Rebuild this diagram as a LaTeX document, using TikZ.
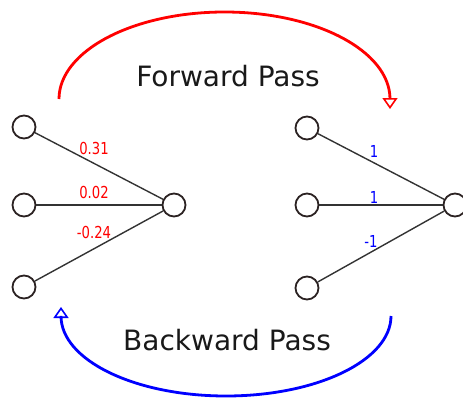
\documentclass[tikz,border=0pt]{standalone}
\usepackage{fontspec}
\setmainfont{DejaVu Sans}
\newfontfamily\wfont[FakeStretch=0.8]{DejaVu Sans}
\usetikzlibrary{arrows.meta}
\definecolor{nodeline}{HTML}{2B2222}
\definecolor{edgeline}{HTML}{333333}
\begin{document}
\begin{tikzpicture}[x=1pt,y=1pt,
  neuron/.style={circle,draw=nodeline,fill=white,line width=1.8pt,minimum size=23pt,inner sep=0pt},
  wedge/.style={draw=edgeline,line width=1.4pt},
  wlab/.style={font=\wfont\fontsize{16.5}{16.5}\selectfont,inner sep=0pt},
  title/.style={font=\fontsize{28}{32}\selectfont,text=black!90,inner sep=0pt},
  passarrow/.style={line width=2.8pt,-{Triangle[open,length=11pt,width=15pt,line width=1.6pt]}}]
\useasboundingbox (0,0) rectangle (463,400);
% left network
\node[neuron] (a1) at (24,273) {};
\node[neuron] (a2) at (24,195) {};
\node[neuron] (a3) at (24,113) {};
\node[neuron] (ao) at (174,195) {};
\draw[wedge] (a1) -- (ao);
\draw[wedge] (a2) -- (ao);
\draw[wedge] (a3) -- (ao);
\node[wlab,text=red] (l1) at (94,252) {0.31};
\node[wlab,text=red] (l2) at (94,208) {0.02};
\node[wlab,text=red] (l3) at (94,168) {-0.24};
% right network
\node[neuron] (b1) at (307,272) {};
\node[neuron] (b2) at (307,195) {};
\node[neuron] (b3) at (307,112) {};
\node[neuron] (bo) at (455,195) {};
\draw[wedge] (b1) -- (bo);
\draw[wedge] (b2) -- (bo);
\draw[wedge] (b3) -- (bo);
\node[wlab,text=blue] (r1) at (374,249) {1};
\node[wlab,text=blue] (r2) at (374,203) {1};
\node[wlab,text=blue] (r3) at (371,159) {-1};
% pass arrows
\coordinate (fs) at (59,301);
\coordinate (bs) at (391,84);
\draw[passarrow,red] (fs) arc[start angle=180,end angle=0,x radius=165.5,y radius=87] -- ++(0,-10);
\draw[passarrow,blue] (bs) arc[start angle=0,end angle=-180,x radius=165,y radius=80] -- ++(0,9);
\node[title] (fp) at (228,324) {Forward Pass};
\node[title] (bp) at (227,60) {Backward Pass};
\end{tikzpicture}
\end{document}
